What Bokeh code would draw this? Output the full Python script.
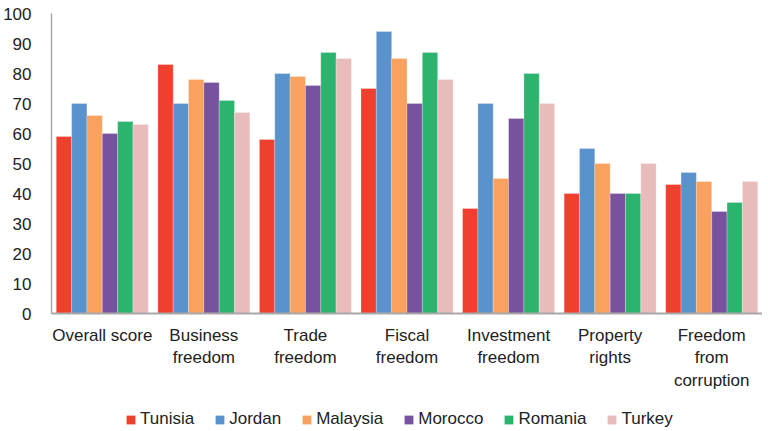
from bokeh.plotting import figure
from bokeh.layouts import column
from bokeh.models import ColumnDataSource, Legend, LegendItem, FixedTicker
from bokeh.transform import dodge
from bokeh.embed import file_html
from bokeh.resources import INLINE

categories = ["Overall score", "Business\nfreedom", "Trade\nfreedom", "Fiscal\nfreedom",
              "Investment\nfreedom", "Property\nrights", "Freedom\nfrom\ncorruption"]
countries = ["Tunisia", "Jordan", "Malaysia", "Morocco", "Romania", "Turkey"]
tunisia = [59, 83, 58, 75, 35, 40, 43]
jordan = [70, 70, 80, 94, 70, 55, 47]
malaysia = [66, 78, 79, 85, 45, 50, 44]
morocco = [60, 77, 76, 70, 65, 40, 34]
romania = [64, 71, 87, 87, 80, 40, 37]
turkey = [63, 67, 85, 78, 70, 50, 44]
colors = ["#EE402D", "#5A93CC", "#F9A15E", "#78529E", "#2CB46F", "#E7BCBB"]
y_ticks = [0, 10, 20, 30, 40, 50, 60, 70, 80, 90, 100]

series = [tunisia, jordan, malaysia, morocco, romania, turkey]
data = {"cat": categories}
for name, vals in zip(countries, series):
    data[name] = vals
source = ColumnDataSource(data)

FONT = "Liberation Sans"
bw = 0.151

p = figure(x_range=categories, y_range=(0, 100), frame_width=711, frame_height=300,
           output_backend="svg", toolbar_location=None,
           min_border_left=41, min_border_right=0, min_border_top=13, min_border_bottom=0)
p.x_range.range_padding = 0

for i, (name, col) in enumerate(zip(countries, colors)):
    off = (i - 2.5) * bw
    p.vbar(x=dodge("cat", off, range=p.x_range), top=name, width=bw, source=source,
           fill_color=col, line_color="white", line_alpha=0.5, line_width=0.5)

p.xgrid.visible = False
p.ygrid.visible = False
p.outline_line_color = None

p.yaxis.ticker = FixedTicker(ticks=y_ticks)
p.yaxis.major_tick_line_color = None
p.yaxis.minor_tick_line_color = None
p.yaxis.axis_line_color = "#A8A8A8"
p.yaxis.axis_line_width = 1.5
p.yaxis.major_label_text_font = FONT
p.yaxis.major_label_text_font_size = "17px"
p.yaxis.major_label_text_color = "#222222"
p.yaxis.major_label_standoff = 14

p.xaxis.major_tick_line_color = None
p.xaxis.major_tick_out = 0
p.xaxis.axis_line_color = "#A8A8A8"
p.xaxis.axis_line_width = 2
p.xaxis.major_label_text_font = FONT
p.xaxis.major_label_text_font_size = "17px"
p.xaxis.major_label_text_color = "#222222"
p.xaxis.major_label_standoff = 12

# legend strip: same bars, drawn into a y range they never reach, so only the legend shows
lg = figure(x_range=categories, y_range=(200, 300), width=752, height=40,
            output_backend="svg", toolbar_location=None,
            x_axis_location=None, y_axis_location=None,
            min_border_left=0, min_border_right=0, min_border_top=0, min_border_bottom=0)
lg.xgrid.visible = False
lg.ygrid.visible = False
lg.outline_line_color = None
lg_renderers = []
for i, (name, col) in enumerate(zip(countries, colors)):
    off = (i - 2.5) * bw
    r = lg.vbar(x=dodge("cat", off, range=lg.x_range), top=name, width=bw, source=source,
                fill_color=col, line_color=None)
    lg_renderers.append(r)

legend = Legend(items=[LegendItem(label=n, renderers=[r]) for n, r in zip(countries, lg_renderers)],
                orientation="horizontal", location=(74, 4),
                label_text_font=FONT, label_text_font_size="17px", label_text_color="#222222",
                glyph_width=11, glyph_height=11, spacing=20, label_standoff=4, label_height=16,
                border_line_color=None, background_fill_alpha=0, padding=0, margin=0)
lg.add_layout(legend)

layout = column(p, lg, spacing=0)
open("out.html", "w").write(file_html(layout, INLINE))
